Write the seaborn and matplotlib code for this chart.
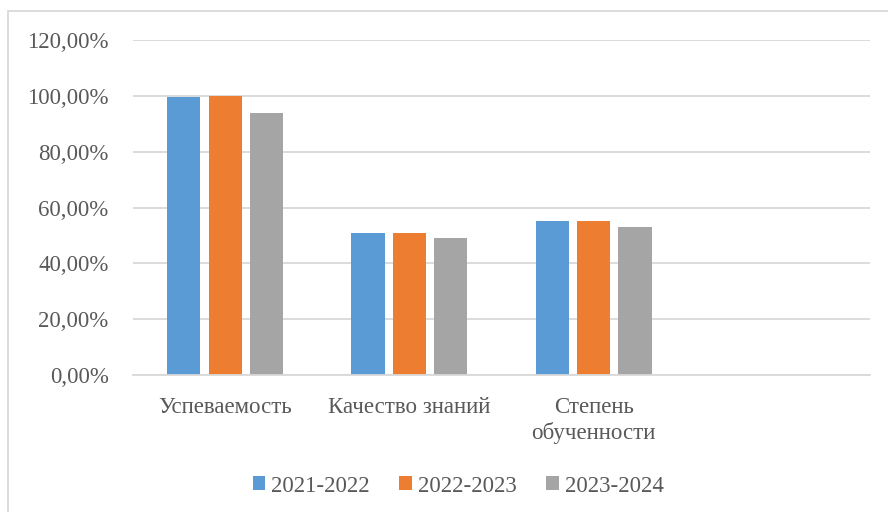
import matplotlib
matplotlib.use("Agg")
import matplotlib.pyplot as plt
import seaborn as sns
import pandas as pd
from matplotlib.patches import Rectangle
from matplotlib.ticker import FuncFormatter

categories = ["Успеваемость", "Качество знаний", "Степень\nобученности"]
years = ["2021-2022", "2022-2023", "2023-2024"]
v2021 = [99.6, 51.0, 55.0]
v2022 = [100.0, 51.0, 55.0]
v2023 = [94.0, 49.0, 53.0]
colors = ["#5B9BD5", "#ED7D31", "#A5A5A5"]

rows = []
for y, vals in zip(years, [v2021, v2022, v2023]):
    for c, v in zip(categories, vals):
        rows.append({"cat": c, "year": y, "val": v})
df = pd.DataFrame(rows)

sns.set_theme(style="white")
plt.rcParams["font.family"] = ["Liberation Serif", "DejaVu Serif"]
txt = "#595959"

fig = plt.figure(figsize=(8.88, 5.12), dpi=100)
ax = fig.add_axes([133/888, 1-375/512, (870-133)/888, (375-40)/512])

sns.barplot(data=df, x="cat", y="val", hue="year", order=categories,
            hue_order=years, palette=colors, width=0.672, gap=0.195,
            saturation=1, ax=ax, legend=True, linewidth=0)

ax.set_xlim(-0.5, 3.5)
ax.set_ylim(0, 120)
ax.set_yticks(range(0, 121, 20))
ax.yaxis.set_major_formatter(FuncFormatter(lambda v, p: f"{v:.2f}%".replace(".", ",")))
ax.yaxis.grid(True, color="#D9D9D9", linewidth=1.3)
ax.set_axisbelow(True)
for s in ["top", "right", "left"]:
    ax.spines[s].set_visible(False)
ax.spines["bottom"].set_color("#D9D9D9")
ax.spines["bottom"].set_linewidth(1.3)
ax.set_xlabel("")
ax.set_ylabel("")
ax.tick_params(axis="both", length=0, labelsize=16.5, colors=txt)
ax.tick_params(axis="y", pad=17.5)
ax.tick_params(axis="x", pad=16)
ax.set_xticks(range(len(categories)))
ax.set_xticklabels(categories, linespacing=1.2, va="top")

ax.legend(loc="center", bbox_to_anchor=(458/888, 1-486/512), bbox_transform=fig.transFigure,
          ncol=3, frameon=False, fontsize=16.5, labelcolor=txt, handlelength=0.55,
          handleheight=0.55, handletextpad=0.25, columnspacing=1.3)

fig.patches.append(Rectangle((8/888, -0.1), 1.0, 1-11/512+0.1, transform=fig.transFigure,
                             fill=False, edgecolor="#D9D9D9", linewidth=1.3))

fig.savefig("out.png", dpi=100, facecolor="white")
